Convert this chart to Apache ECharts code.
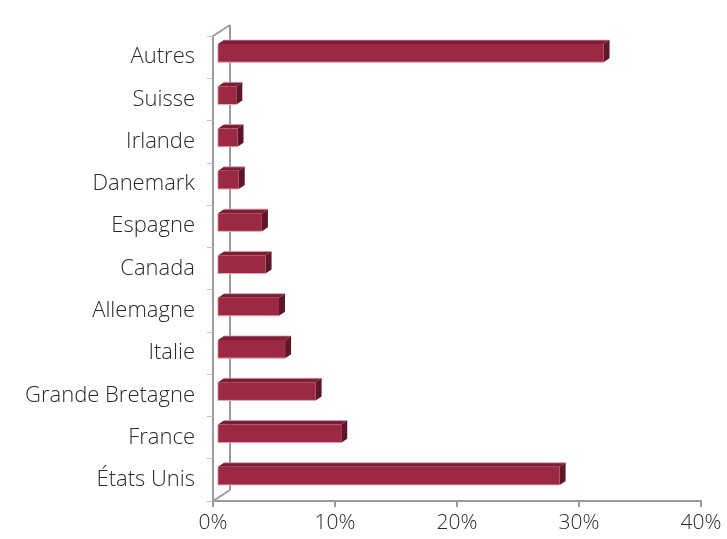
<!DOCTYPE html>
<html>
<head>
<meta charset="utf-8">
<script src="https://cdn.jsdelivr.net/npm/echarts@6/dist/echarts.min.js"></script>
<style>html,body{margin:0;padding:0;background:#fff}#c{width:727px;height:539px}</style>
</head>
<body>
<div id="c"></div>
<script>
var categories = ['États Unis','France','Grande Bretagne','Italie','Allemagne','Canada','Espagne','Danemark','Irlande','Suisse','Autres'];
var values = [28.0, 10.1, 8.0, 5.5, 5.0, 3.9, 3.6, 1.7, 1.6, 1.5, 31.6];
var xTicks = [0, 10, 20, 30, 40];

var FONT = '"Open Sans", sans-serif';
var chart = echarts.init(document.getElementById('c'));
var barData = values.map(function(v, i){ return [v, i]; });

function barItem(params, api){
  var v = api.value(0), idx = api.value(1);
  var p = api.coord([v, idx]);
  var p0 = api.coord([0, idx]);
  var band = api.size([0, 1])[1];
  var h = band * 0.43;
  var ox = 5, oy = -4, dx = 6, dy = -4;
  var x0 = p0[0] + ox, x1 = p[0] + ox;
  var yT = p[1] + oy - h/2, yB = p[1] + oy + h/2;
  return {
    type: 'group',
    children: [
      {type:'polygon', shape:{points:[[x0,yT],[x1,yT],[x1+dx,yT+dy],[x0+dx,yT+dy]]},
       style:{fill:'#7c1f36'}},
      {type:'line', shape:{x1:x0+dx, y1:yT+dy, x2:x1+dx, y2:yT+dy}, style:{stroke:'#d9a0ad', lineWidth:0.8}},
      {type:'polygon', shape:{points:[[x1,yT],[x1+dx,yT+dy],[x1+dx,yB+dy],[x1,yB]]},
       style:{fill:'#5e1628'}},
      {type:'rect', shape:{x:x0, y:yT, width:x1-x0, height:h},
       style:{fill:'#9c2843'}},
      {type:'line', shape:{x1:x0, y1:yB, x2:x1, y2:yB}, style:{stroke:'#e6aab7', lineWidth:1}},
      {type:'line', shape:{x1:x0, y1:yT, x2:x0, y2:yB}, style:{stroke:'#d48a9b', lineWidth:0.8}}
    ]
  };
}

function wallItem(params, api){
  var n = categories.length;
  var band = api.size([0, 1])[1];
  var bot = api.coord([0, 0]); var yb = bot[1] + band/2;
  var top = api.coord([0, n-1]); var yt = top[1] - band/2;
  var x = bot[0];
  var dx = 17, dy = -11;
  var st = {stroke:'#9b9b9b', lineWidth:2};
  return {
    type:'group',
    children:[
      {type:'line', shape:{x1:x+dx, y1:yt+dy, x2:x+dx, y2:yb+dy}, style:st},
      {type:'line', shape:{x1:x, y1:yt, x2:x+dx, y2:yt+dy}, style:st},
      {type:'line', shape:{x1:x, y1:yb, x2:x+dx, y2:yb+dy}, style:st}
    ]
  };
}

chart.setOption({
  animation:false,
  backgroundColor:'#ffffff',
  grid:{left:213, right:26, top:36, bottom:38},
  xAxis:{
    type:'value', min:0, max:40, interval:10,
    axisLine:{show:true, lineStyle:{color:'#9b9b9b', width:2}},
    axisTick:{show:true, length:6, lineStyle:{color:'#9b9b9b', width:2}},
    splitLine:{show:false},
    axisLabel:{formatter:function(v){return xTicks.indexOf(v)>=0 ? v+'%' : '';}, color:'#2a2a2a', fontFamily:FONT, fontWeight:300, fontSize:21, margin:12}
  },
  yAxis:{
    type:'category', data:categories,
    axisLine:{show:true, lineStyle:{color:'#9b9b9b', width:2}},
    axisTick:{show:true, length:6, lineStyle:{color:'#c0c0c0', width:1}},
    axisLabel:{color:'#2a2a2a', fontFamily:FONT, fontWeight:300, fontSize:22, margin:18, padding:[4,0,0,0]}
  },
  series:[
    {type:'custom', renderItem:wallItem, data:[[0,0]], encode:{x:0,y:1}, clip:false, silent:true, z:1},
    {type:'custom', renderItem:barItem, data:barData, encode:{x:0,y:1}, clip:false, z:2}
  ]
});
</script>
</body>
</html>
